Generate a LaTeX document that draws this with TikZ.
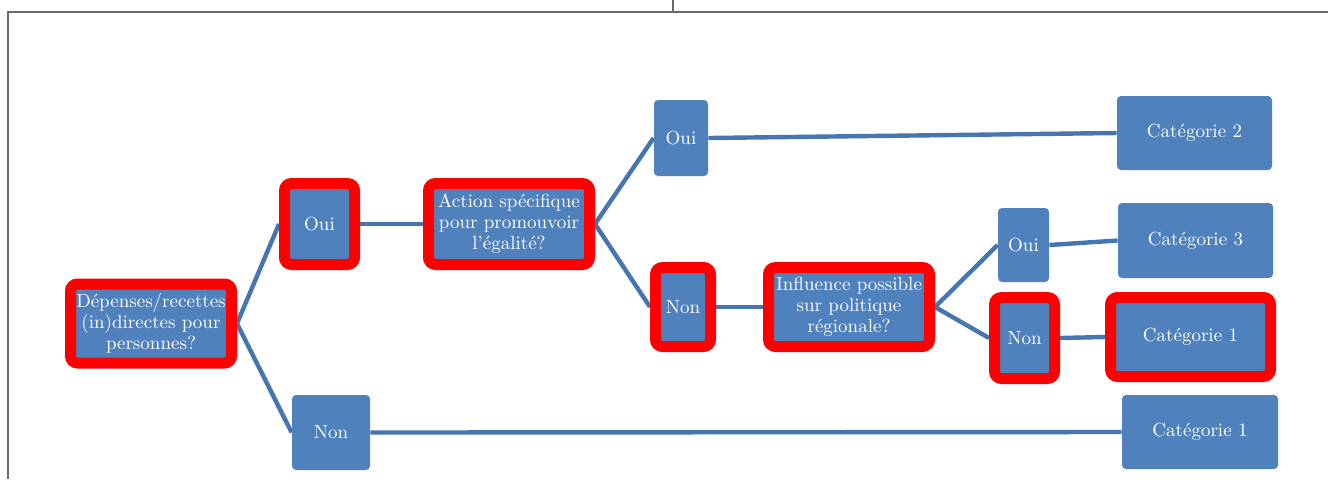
\documentclass[tikz,border=0pt]{standalone}
\usetikzlibrary{backgrounds}
\definecolor{boxblue}{HTML}{4F81BD}
\definecolor{linkblue}{HTML}{4675B0}
\definecolor{framegray}{HTML}{6A6A6A}
\begin{document}
\begin{tikzpicture}[x=0.5pt,y=-0.5pt,
  box/.style={fill=boxblue,text=white,rounded corners=2pt,inner sep=1pt,
    align=center,font=\fontsize{9.5}{10.5}\selectfont},
  hl/.style={box,draw=red,line width=5.5pt,rounded corners=3.5pt},
  link/.style={linkblue,line width=2.2pt}]
  \useasboundingbox (0,0) rectangle (1328,479);
  %frame
  \draw[framegray,line width=1pt] (8,479) -- (8,12) -- (1328,12);
  \draw[framegray,line width=1pt] (673,0) -- (673,12);
  %first question
  \node[hl,minimum width=80.5pt,minimum height=39.5pt] (dep) at (151,323.5)
    {D\'epenses/recettes\\(in)directes pour\\personnes?};
  \node[hl,minimum width=35pt,minimum height=40.5pt] (oui1) at (319.5,224) {Oui};
  \node[box,minimum width=39pt,minimum height=37.5pt] (non1) at (331,432.5) {Non};
  %second question
  \node[hl,minimum width=80.5pt,minimum height=40.5pt] (act) at (509,224)
    {Action sp\'ecifique\\pour promouvoir\\l'\'egalit\'e?};
  \node[box,minimum width=27pt,minimum height=38pt] (oui2) at (681,138) {Oui};
  \node[hl,minimum width=27.5pt,minimum height=39.5pt] (non2) at (683,307) {Non};
  %third question
  \node[hl,minimum width=80.5pt,minimum height=39.5pt] (infl) at (849,307)
    {Influence possible\\sur politique\\r\'egionale?};
  \node[box,minimum width=25.5pt,minimum height=37pt] (oui3) at (1023.5,245) {Oui};
  \node[hl,minimum width=30pt,minimum height=40.5pt] (non3) at (1024.5,338) {Non};
  %categories
  \node[box,minimum width=77.5pt,minimum height=37pt] (cat2) at (1194.5,133) {Cat\'egorie 2};
  \node[box,minimum width=77.5pt,minimum height=37.5pt] (cat3) at (1195.5,240.5) {Cat\'egorie 3};
  \node[hl,minimum width=80pt,minimum height=39.5pt] (cat1a) at (1190.5,337) {Cat\'egorie 1};
  \node[box,minimum width=78pt,minimum height=37pt] (cat1b) at (1200,432) {Cat\'egorie 1};
  %links
  \begin{pgfonlayer}{background}
    \draw[link] (oui1.west) -- (dep.east) -- (non1.west);
    \draw[link] (oui1.east) -- (act.west);
    \draw[link] (oui2.west) -- (act.east) -- (non2.west);
    \draw[link] (oui2.east) -- (cat2.west);
    \draw[link] (non2.east) -- (infl.west);
    \draw[link] (oui3.west) -- (infl.east) -- (non3.west);
    \draw[link] (oui3.east) -- (cat3.west);
    \draw[link] (non3.east) -- (cat1a.west);
    \draw[link] (non1.east) -- (cat1b.west);
  \end{pgfonlayer}
\end{tikzpicture}
\end{document}
